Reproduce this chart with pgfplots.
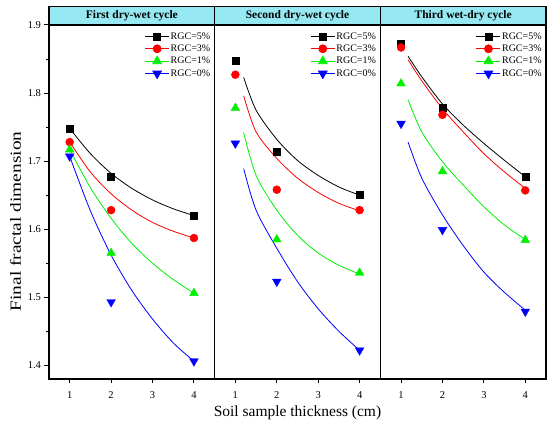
\documentclass[border=0pt]{standalone}
\usepackage{pgfplots}
\pgfplotsset{compat=1.18}
\usepgfplotslibrary{groupplots}
\usepackage{fontspec}
\setmainfont{Liberation Serif}
\definecolor{strip}{RGB}{150,232,242}
\definecolor{mygreen}{RGB}{0,240,0}
\definecolor{myblue}{RGB}{0,0,255}
\definecolor{myred}{RGB}{255,0,0}

% measured points
\pgfplotstableread{
x  b5     r3     g1     u0
1  1.748  1.728  1.717  1.707
2  1.677  1.628  1.565  1.493
4  1.620  1.587  1.506  1.406
}\first
\pgfplotstableread{
x  b5     r3     g1     u0
1  1.848  1.827  1.778  1.726
2  1.714  1.658  1.585  1.523
4  1.650  1.628  1.536  1.422
}\second
\pgfplotstableread{
x  b5     r3     g1     u0
1  1.872  1.867  1.814  1.755
2  1.778  1.768  1.685  1.599
4  1.677  1.657  1.584  1.479
}\third
% fitted curves
\pgfplotstableread{
x    b5     r3     g1     u0
1    1.748  1.728  1.717  1.707
1.5  1.711  1.684  1.661  1.627
2    1.682  1.652  1.616  1.562
2.5  1.660  1.628  1.579  1.510
3    1.643  1.610  1.550  1.468
3.5  1.630  1.597  1.526  1.433
4    1.620  1.587  1.506  1.406
}\firstfit
\pgfplotstableread{
x    b5     r3     g1     u0
1.2  1.823  1.796  1.742  1.689
1.5  1.775  1.743  1.679  1.628
2    1.732  1.704  1.628  1.572
2.5  1.701  1.675  1.591  1.523
3    1.679  1.654  1.565  1.483
3.5  1.662  1.638  1.547  1.450
4    1.650  1.627  1.534  1.422
}\secondfit
\pgfplotstableread{
x    b5     r3     g1     u0
1.17 1.854  1.849  1.790  1.728
1.5  1.824  1.818  1.743  1.675
2    1.784  1.777  1.699  1.621
2.5  1.753  1.743  1.665  1.576
3    1.726  1.711  1.633  1.537
3.5  1.701  1.684  1.606  1.507
4    1.677  1.660  1.585  1.481
}\thirdfit

\pgfplotsset{
  every axis title shift=0pt,
  panel/.style={
    scale only axis, width=165.7pt, height=354pt,
    xmin=0.5, xmax=4.5, ymin=1.38, ymax=1.9,
    xtick={1,2,3,4},
    ytick={1.4,1.5,1.6,1.7,1.8,1.9},
    minor y tick num=1,
    tick align=outside,
    tick pos=left,
    axis line style={line width=1.2pt},
    major tick length=4.5pt, minor tick length=2.5pt,
    every tick/.style={black, line width=1pt},
    /pgf/number format/assume math mode=true,
    /pgf/number format/fixed, /pgf/number format/precision=1,
    /pgf/number format/fixed zerofill,
    ticklabel style={font=\fontsize{10.5}{12}\selectfont},
    xticklabel style={/pgf/number format/precision=0, /pgf/number format/fixed zerofill=false, yshift=-5pt},
    clip=false,
    title style={at={(0.5,1)}, anchor=south, fill=strip, draw=black, line width=1.2pt,
      inner sep=0pt, minimum width=165.7pt, minimum height=18pt,
      font=\fontsize{11.5}{13}\selectfont\bfseries},
    legend style={at={(1,1)}, anchor=north east, xshift=-3pt, yshift=-6pt,
      draw=none, fill=none, inner sep=0pt, row sep=1.8pt,
      font=\fontsize{10}{12}\selectfont,
      nodes={inner sep=1.2pt}},
    legend cell align=left,
    legend image code/.code={\draw[mark repeat=2,mark phase=2] plot coordinates {(0pt,0pt)(12pt,0pt)(24pt,0pt)};},
  },
  fitline/.style={line width=0.8pt, smooth, no marks, forget plot},
  pts/.style={only marks, forget plot},
  mb/.style={black, mark=square*, mark size=3.5pt},
  mr/.style={myred, mark=*, mark size=4pt},
  mg/.style={mygreen, mark=triangle*, mark size=5pt},
  mu/.style={myblue, mark=triangle*, mark options={rotate=180}, mark size=5pt},
}
\newcommand\legendset{%
\addlegendimage{black, line width=0.8pt, mark=square*, mark size=3.5pt}
\addlegendentry{RGC=5\%}
\addlegendimage{myred, line width=0.8pt, mark=*, mark size=4pt}
\addlegendentry{RGC=3\%}
\addlegendimage{mygreen, line width=0.8pt, mark=triangle*, mark size=5pt}
\addlegendentry{RGC=1\%}
\addlegendimage{myblue, line width=0.8pt, mark=triangle*, mark size=5pt, mark options={rotate=180}}
\addlegendentry{RGC=0\%}
}

\begin{document}
\begin{tikzpicture}
\begin{groupplot}[group style={group size=3 by 1, horizontal sep=0pt, group name=G}, panel]

\nextgroupplot[title={First dry-wet cycle},
  ylabel={\scalebox{1.25}[1]{Final fractal dimension}},
  ylabel style={font=\fontsize{15.5}{17}\selectfont, at={(ticklabel cs:0.445)}}]
\legendset
\addplot[fitline, black] table[x=x,y=b5] {\firstfit};
\addplot[fitline, myred] table[x=x,y=r3] {\firstfit};
\addplot[fitline, mygreen] table[x=x,y=g1] {\firstfit};
\addplot[fitline, myblue] table[x=x,y=u0] {\firstfit};
\addplot[pts, mb] table[x=x,y=b5] {\first};
\addplot[pts, mr] table[x=x,y=r3] {\first};
\addplot[pts, mg] table[x=x,y=g1] {\first};
\addplot[pts, mu] table[x=x,y=u0] {\first};

\nextgroupplot[title={Second dry-wet cycle}, yticklabels={}, ytick=\empty, minor ytick=\empty,
  xlabel={Soil sample thickness (cm)}, xlabel style={font=\fontsize{15.5}{17}\selectfont}]
\legendset
\addplot[fitline, black] table[x=x,y=b5] {\secondfit};
\addplot[fitline, myred] table[x=x,y=r3] {\secondfit};
\addplot[fitline, mygreen] table[x=x,y=g1] {\secondfit};
\addplot[fitline, myblue] table[x=x,y=u0] {\secondfit};
\addplot[pts, mb] table[x=x,y=b5] {\second};
\addplot[pts, mr] table[x=x,y=r3] {\second};
\addplot[pts, mg] table[x=x,y=g1] {\second};
\addplot[pts, mu] table[x=x,y=u0] {\second};

\nextgroupplot[title={Third wet-dry cycle}, yticklabels={}, ytick=\empty, minor ytick=\empty]
\legendset
\addplot[fitline, black] table[x=x,y=b5] {\thirdfit};
\addplot[fitline, myred] table[x=x,y=r3] {\thirdfit};
\addplot[fitline, mygreen] table[x=x,y=g1] {\thirdfit};
\addplot[fitline, myblue] table[x=x,y=u0] {\thirdfit};
\addplot[pts, mb] table[x=x,y=b5] {\third};
\addplot[pts, mr] table[x=x,y=r3] {\third};
\addplot[pts, mg] table[x=x,y=g1] {\third};
\addplot[pts, mu] table[x=x,y=u0] {\third};
\end{groupplot}
\path (G c1r1.south west) ++(-49pt,-46pt) coordinate (BL);
\path (G c3r1.north east) ++(4pt,25pt) coordinate (TR);
\path (BL) rectangle (TR);
\end{tikzpicture}
\end{document}
